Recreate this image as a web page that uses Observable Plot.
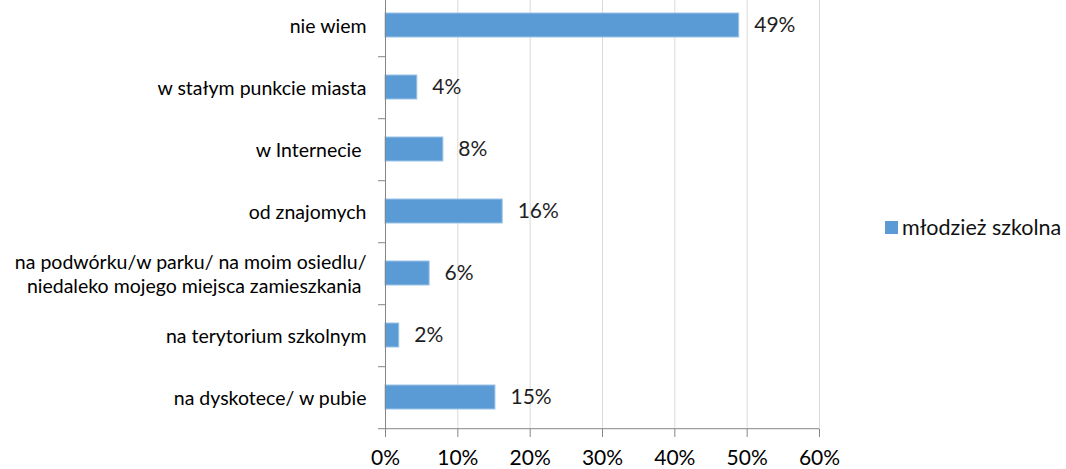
<!DOCTYPE html>
<html>
<head>
<meta charset="utf-8">
<script src="https://cdn.jsdelivr.net/npm/d3@7"></script>
<script src="https://cdn.jsdelivr.net/npm/@observablehq/plot@0.6"></script>
<style>
  html, body { margin: 0; padding: 0; background: #fff; }
  #wrap { position: relative; width: 1066px; height: 469px; overflow: hidden; font-family: Lato, "Open Sans", sans-serif; }
  #legend { position: absolute; left: 885px; top: 214px; display: flex; align-items: center; font-size: 21.5px; color: #111; white-space: nowrap; }
  #legend .sw { width: 13px; height: 13px; background: #5B9BD5; margin-right: 4px; }
</style>
</head>
<body>
<div id="wrap"><div id="legend"><span class="sw"></span><span id="legtxt"></span></div></div>
<script>
const categories = [
  "nie wiem",
  "w stałym punkcie miasta",
  "w Internecie\u00a0",
  "od znajomych",
  "na podwórku/w parku/ na moim osiedlu/\nniedaleko mojego miejsca zamieszkania\u00a0",
  "na terytorium szkolnym",
  "na dyskotece/ w pubie"
];
const values = [48.9, 4.4, 8.0, 16.2, 6.1, 1.9, 15.2];
const xTicks = [0, 10, 20, 30, 40, 50, 60];
const seriesName = "młodzież szkolna";

const data = categories.map((c, i) => ({cat: c, value: values[i]}));

const W = 1066, H = 469;
const mTop = -8, mBottom = 40, mLeft = 385, mRight = 247;
const step = (H - mBottom - mTop) / categories.length;

const chart = Plot.plot({
  width: W,
  height: H,
  marginTop: mTop,
  marginBottom: mBottom,
  marginLeft: mLeft,
  marginRight: mRight,
  style: {fontFamily: "Lato, 'Open Sans', sans-serif", background: "transparent", overflow: "hidden"},
  x: {domain: [0, 60], ticks: xTicks, axis: null, label: null},
  y: {domain: categories, paddingInner: 0.615, paddingOuter: 0.3075, axis: null, label: null},
  marks: [
    Plot.gridX(xTicks.slice(1), {stroke: "#d9d9d9", strokeOpacity: 1}),
    Plot.barX(data, {x: "value", y: "cat", fill: "#5B9BD5", stroke: "#9DC3E6", strokeWidth: 1}),
    Plot.text(data, {x: "value", y: "cat", text: d => Math.round(d.value) + "%", textAnchor: "start", dx: 15, fontSize: 21, fill: "#1f1f1f"}),
    Plot.ruleX([0], {stroke: "#868686"}),
    Plot.ruleY([categories[categories.length - 1]], {dy: step / 2, stroke: "#868686"}),
    Plot.axisY({tickSize: 7, tickFormat: () => "", dy: step / 2, stroke: "#868686", label: null}),
    Plot.axisY({tickSize: 0, tickPadding: 19, fontSize: 19.5, lineHeight: 1.25, fill: "#000", label: null}),
    Plot.axisX(xTicks, {tickSize: 8, tickPadding: 13, fontSize: 21, stroke: "#868686", fill: "#000", tickFormat: d => d + "%", label: null})
  ]
});
document.getElementById("wrap").prepend(chart);
document.getElementById("legtxt").textContent = seriesName;
</script>
</body>
</html>
